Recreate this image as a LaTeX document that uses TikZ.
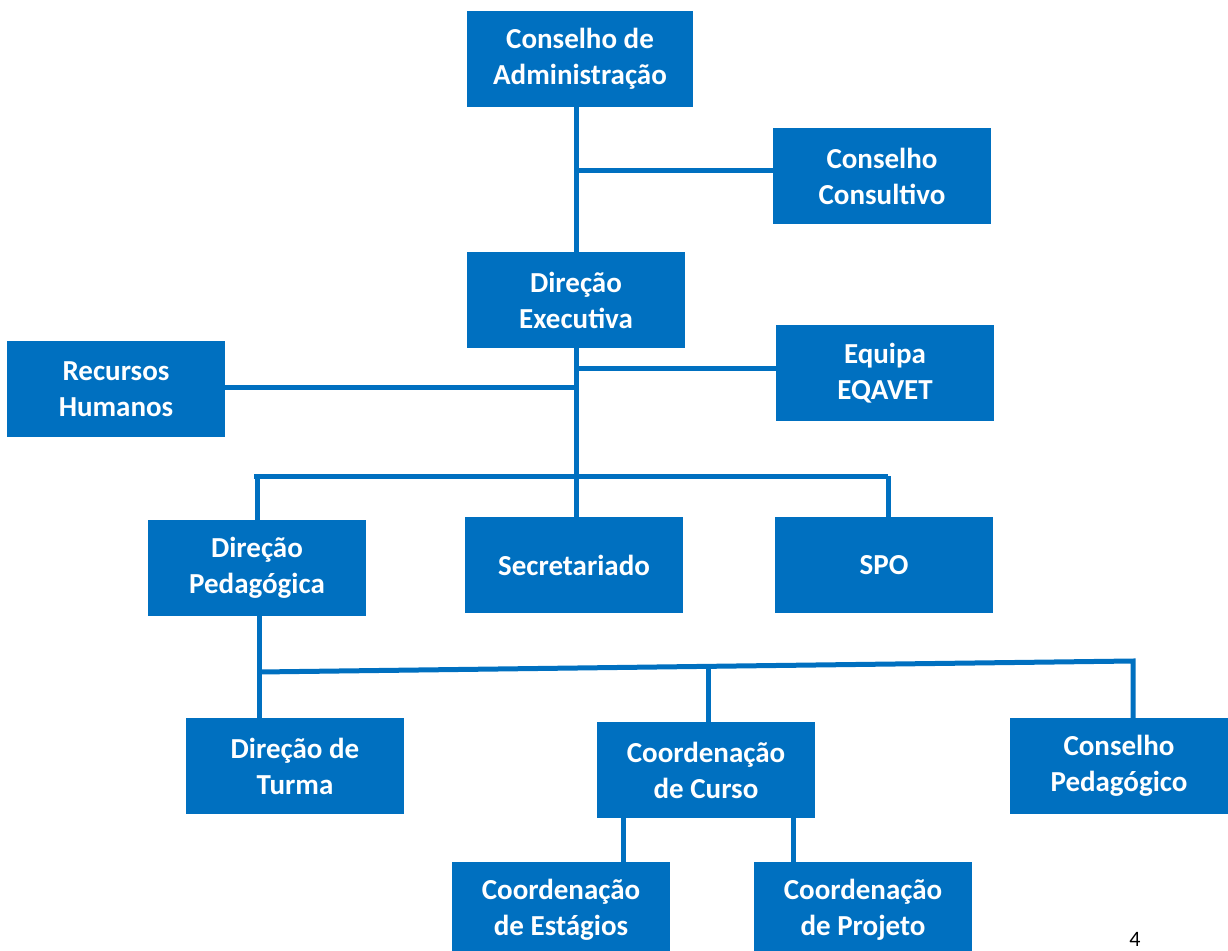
\documentclass[tikz,border=0pt]{standalone}
\usepackage{fontspec}
\setmainfont{Carlito}
\definecolor{orgblue}{HTML}{0070C0}

\tikzset{
  unit/.style={rectangle, fill=orgblue, text=white, inner sep=0pt,
    minimum width=218pt, minimum height=96pt, align=center,
    font=\bfseries\fontsize{29}{36}\selectfont},
  link/.style={draw=orgblue, line width=5pt}
}

\begin{document}
\begin{tikzpicture}[x=1pt,y=-1pt]
		\clip (0,0) rectangle (1228,950);
		\node[unit, minimum width=226pt] (admin) at (580,59) {Conselho de\\Administração};
		\node[unit] (consult) at (882,176) {Conselho\\Consultivo};
		\node[unit] (exec) at (576,300) {Direção\\Executiva};
		\node[unit] (eqavet) at (885,373) {Equipa\\EQAVET};
		\node[unit] (rh) at (116,389) {Recursos\\Humanos};
		\node[unit] (dped) at (257,568) {Direção\\Pedagógica};
		\node[unit] (secr) at (574,565) {Secretariado};
		\node[unit] (spo) at (884,565) {SPO};
		\node[unit] (turma) at (295,766) {Direção de\\Turma};
		\node[unit] (curso) at (706,770) {Coordenação\\de Curso};
		\node[unit] (cped) at (1119,766) {Conselho\\Pedagógico};
		\node[unit] (estag) at (561,910) {Coordenação\\de Estágios};
		\node[unit] (proj) at (863,910) {Coordenação\\de Projeto};
		\node[anchor=base, inner sep=0pt, font=\fontsize{22}{26}\selectfont] (page) at (1135,946) {4};
		% junctions
		\coordinate (j1) at (576,170);
		\coordinate (j2) at (576,368);
		\coordinate (j3) at (576,387);
		\coordinate (b1l) at (254,476);
		\coordinate (b1r) at (888,476);
		\coordinate (b2l) at (259,672);
		\coordinate (b2m) at (708,664);
		\coordinate (b2r) at (1133,661);
		% top part
		\draw[link] (exec.north) -- (exec.north |- admin.south);
		\draw[link] (j1) -- (consult.west |- j1);
		\draw[link] (exec.south) -- (exec.south |- secr.north);
		\draw[link] (j2) -- (eqavet.west |- j2);
		\draw[link] (rh.east |- j3) -- (j3);
		\draw[link] (b1l) -- (b1r);
		\draw[link] (dped.north) -- (dped.north |- b1l);
		\draw[link] (b1r |- spo.north) -- (b1r);
		% pedagogical part
		\draw[link] (b2l |- dped.south) -- (b2l |- turma.north);
		\draw[link] (b2l) -- (b2r) -- (b2r |- cped.north);
		\draw[link] (b2m) -- (b2m |- curso.north);
		\draw[link] ([xshift=-83pt]curso.south) -- ([xshift=-83pt]curso.south |- estag.north);
		\draw[link] ([xshift=87pt]curso.south) -- ([xshift=87pt]curso.south |- proj.north);
\end{tikzpicture}
\end{document}
